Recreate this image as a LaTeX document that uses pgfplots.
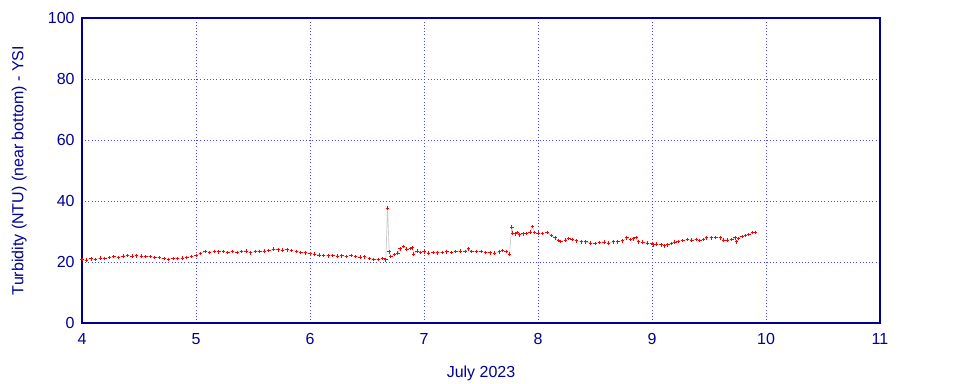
\documentclass[border=0pt]{standalone}
\usepackage{pgfplots}
\pgfplotsset{compat=1.18}
\usepackage{fontspec}
\setmainfont{Liberation Sans}
\definecolor{navy}{RGB}{0,0,150}
\definecolor{gridblue}{RGB}{70,70,255}
\begin{document}
\begin{tikzpicture}[x=1pt,y=1pt]
\path[use as bounding box] (-61.5,-45.75) rectangle (658.5,242.25);
\begin{axis}[
  at={(0,0)}, anchor=south west,
  scale only axis, width=598.5pt, height=228.75pt,
  xmin=4, xmax=11, ymin=0, ymax=100,
  xtick={4,5,...,11}, ytick={0,20,...,100},
  axis line style={navy, line width=0.8pt},
  tick style={navy}, major tick length=0pt,
  grid=major, major grid style={gridblue, dotted, line width=0.6pt},
  ticklabel style={font=\fontsize{12pt}{14pt}\selectfont, text=navy},
  /pgf/number format/assume math mode=true,
  xlabel={July 2023}, ylabel={Turbidity (NTU) (near bottom) - YSI},
  label style={font=\fontsize{12pt}{14pt}\selectfont, text=navy},
  xlabel style={yshift=-9pt},
  ylabel style={yshift=9pt},
  xticklabel style={yshift=-4pt},
  yticklabel style={xshift=-2pt},
]
\addplot[color=black!22, line width=0.5pt, mark=+, mark size=1.3pt,
  mark options={color=red, solid, line width=0.7pt}] coordinates {
(4.00,20.8) (4.04,20.6) (4.08,21.0) (4.12,20.9) (4.16,21.3) (4.20,21.2) (4.24,21.4) (4.28,21.8) (4.32,21.5) (4.36,21.9)
(4.40,22.1) (4.44,21.9) (4.48,22.0) (4.52,21.9) (4.56,21.8) (4.60,21.8) (4.64,21.5) (4.68,21.4) (4.72,21.1) (4.76,20.9)
(4.80,21.2) (4.84,21.1) (4.88,21.3) (4.92,21.5) (4.96,21.8) (5.00,22.1) (5.04,22.8) (5.08,23.5) (5.12,23.2) (5.16,23.4)
(5.20,23.3) (5.24,23.4) (5.28,23.2) (5.32,23.4) (5.36,23.2) (5.40,23.5) (5.44,23.6) (5.48,23.0) (5.52,23.4) (5.56,23.5)
(5.60,23.6) (5.64,23.7) (5.68,24.2) (5.72,24.0) (5.76,23.9) (5.80,24.0) (5.84,23.8) (5.88,23.5) (5.92,23.2) (5.96,23.0)
(6.00,22.8) (6.04,22.6) (6.08,22.3) (6.12,22.1) (6.16,22.0) (6.20,22.2) (6.24,21.9) (6.28,22.0) (6.32,21.8) (6.36,22.1)
(6.40,21.8) (6.44,21.6) (6.48,21.7) (6.52,21.2) (6.56,20.9) (6.60,20.8) (6.64,21.1) (6.665,20.7) (6.68,37.7) (6.695,23.3)
(6.71,21.8) (6.74,22.4) (6.77,22.9) (6.79,24.3) (6.82,25.0) (6.85,24.2) (6.88,24.5) (6.90,24.6) (6.91,22.6) (6.94,23.6)
(6.97,23.2) (7.00,23.3) (7.04,22.9) (7.08,23.1) (7.12,23.0) (7.16,23.2) (7.20,23.3) (7.24,23.1) (7.28,23.4) (7.32,23.6)
(7.36,23.5) (7.39,24.3) (7.42,23.4) (7.46,23.5) (7.50,23.4) (7.54,23.2) (7.58,23.0) (7.62,22.9) (7.66,23.3) (7.69,23.8)
(7.72,23.4) (7.75,22.6) (7.77,31.4) (7.78,29.5) (7.80,29.2) (7.82,29.6) (7.84,28.9) (7.87,29.2) (7.90,29.4) (7.93,29.8)
(7.95,31.6) (7.97,29.7) (8.00,29.5) (8.04,29.4) (8.08,29.6) (8.12,28.6) (8.15,27.9) (8.18,27.0) (8.20,26.7) (8.24,27.2)
(8.27,27.7) (8.30,27.3) (8.34,26.9) (8.38,26.6) (8.42,26.6) (8.46,26.2) (8.50,26.1) (8.54,26.4) (8.58,26.5) (8.62,26.2)
(8.66,26.6) (8.70,26.6) (8.74,26.9) (8.78,27.9) (8.81,27.4) (8.84,27.6) (8.86,28.0) (8.88,26.6) (8.92,26.5) (8.96,26.2)
(9.00,26.1) (9.01,25.6) (9.04,25.9) (9.08,25.6) (9.11,25.3) (9.14,25.6) (9.17,26.1) (9.20,26.5) (9.23,26.8) (9.27,27.0)
(9.31,27.4) (9.35,27.2) (9.39,27.4) (9.42,27.0) (9.45,27.4) (9.48,27.9) (9.52,27.9) (9.56,28.0) (9.60,27.9) (9.63,27.2)
(9.66,27.2) (9.70,27.4) (9.73,27.9) (9.74,26.6) (9.76,27.7) (9.79,28.4) (9.82,28.7) (9.85,29.0) (9.88,29.6) (9.91,29.7)
};
\end{axis}
\end{tikzpicture}
\end{document}
